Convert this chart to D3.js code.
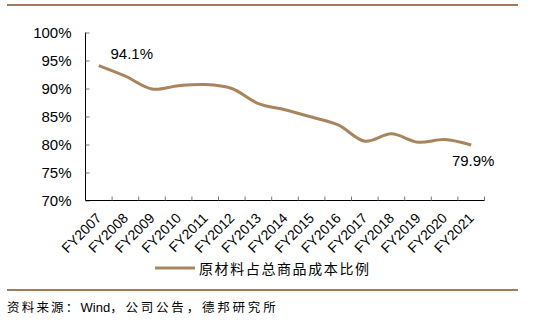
<!DOCTYPE html>
<html><head><meta charset="utf-8">
<script src="https://cdn.jsdelivr.net/npm/d3@7"></script>
<style>
body{margin:0;background:#fff;}
svg{display:block;}
</style></head>
<body>
<svg id="c" width="536" height="323"></svg>
<script>
const categories = ["FY2007","FY2008","FY2009","FY2010","FY2011","FY2012","FY2013","FY2014","FY2015","FY2016","FY2017","FY2018","FY2019","FY2020","FY2021"];
const ratio = [94.1, 92.2, 89.9, 90.5, 90.7, 90.0, 87.3, 86.2, 84.9, 83.5, 80.6, 81.9, 80.4, 80.9, 79.9];
const yTicks = [70, 75, 80, 85, 90, 95, 100];
const seriesName = "原材料占总商品成本比例";
const sourceParts = ["资料来源：", "Wind", "，公司公告，德邦研究所"];

const svg = d3.select("#c");
const lineColor = "#a8855c";
const frameColor = "#a57a5a";

const x = d3.scaleBand().domain(categories).range([85.5, 484.5]);
const y = d3.scaleLinear().domain([70, 100]).range([200.5, 32.5]);

// top & bottom rules
svg.append("line").attr("x1", 7).attr("x2", 518).attr("y1", 5).attr("y2", 5)
  .attr("stroke", frameColor).attr("stroke-width", 2.2);
svg.append("line").attr("x1", 7).attr("x2", 518).attr("y1", 290).attr("y2", 290)
  .attr("stroke", frameColor).attr("stroke-width", 2.2);

// y axis
const ya = svg.append("g").attr("transform", "translate(85.5,0)")
  .call(d3.axisRight(y).tickValues(yTicks).tickSize(4).tickFormat(d => d + "%"));
ya.select(".domain").attr("stroke", "#000").attr("d", `M0,${y(100)}V${y(70)}`);
ya.selectAll(".tick line").attr("stroke", "#777");
ya.selectAll(".tick text").attr("x", -14).attr("text-anchor", "end")
  .attr("font-family", "Liberation Sans, Arial, sans-serif").attr("font-size", 15).attr("fill", "#000");

// x axis
const xa = svg.append("g").attr("transform", "translate(0,200.5)")
  .call(d3.axisBottom(x).tickSize(0).tickFormat(""));
xa.select(".domain").attr("stroke", "#000").attr("d", `M85.5,0H484.5`);
const edges = categories.map(c => x(c) + x.bandwidth());
xa.selectAll(".edge").data(edges).enter().append("line")
  .attr("x1", d => d).attr("x2", d => d).attr("y1", 0).attr("y2", -4)
  .attr("stroke", "#777");
svg.append("g").selectAll("text").data(categories).enter().append("text")
  .attr("transform", d => `translate(${x(d) + x.bandwidth() / 2 + 3.5},219) rotate(-45)`)
  .attr("text-anchor", "end")
  .attr("font-family", "Liberation Sans, Arial, sans-serif").attr("font-size", 14)
  .attr("fill", "#000").text(d => d);

// line
const line = d3.line()
  .x((d, i) => x(categories[i]) + x.bandwidth() / 2)
  .y(d => y(d))
  .curve(d3.curveCatmullRom.alpha(0.5));
svg.append("path").datum(ratio).attr("d", line).attr("fill", "none")
  .attr("stroke", lineColor).attr("stroke-width", 3);

// data labels
const last = ratio.length - 1;
svg.append("text").attr("x", x(categories[0]) + x.bandwidth() / 2 + 33).attr("y", y(ratio[0]) - 7)
  .attr("text-anchor", "middle").attr("font-family", "Liberation Sans, Arial, sans-serif")
  .attr("font-size", 15).attr("fill", "#000").text(ratio[0].toFixed(1) + "%");
svg.append("text").attr("x", x(categories[last]) + x.bandwidth() / 2 + 2).attr("y", y(ratio[last]) + 21)
  .attr("text-anchor", "middle").attr("font-family", "Liberation Sans, Arial, sans-serif")
  .attr("font-size", 15).attr("fill", "#000").text(ratio[last].toFixed(1) + "%");

// legend
svg.append("line").attr("x1", 155).attr("x2", 195).attr("y1", 268).attr("y2", 268)
  .attr("stroke", lineColor).attr("stroke-width", 3);
svg.append("text").attr("x", 199).attr("y", 273.5)
  .attr("font-family", "Noto Sans CJK SC, sans-serif").attr("font-size", 14)
  .attr("letter-spacing", 1.6).attr("fill", "#000").text(seriesName);

// source
const src = svg.append("text").attr("x", 7).attr("y", 311.5)
  .attr("font-family", "Noto Sans CJK SC, sans-serif").attr("font-size", 12.5).attr("fill", "#000");
src.append("tspan").attr("letter-spacing", 2.2).text(sourceParts[0]);
src.append("tspan").attr("dx", 0).attr("font-family", "Liberation Sans, Arial, sans-serif")
  .attr("font-size", 13).text(sourceParts[1]);
src.append("tspan").attr("letter-spacing", 2.8).text(sourceParts[2]);
</script>
</body></html>
